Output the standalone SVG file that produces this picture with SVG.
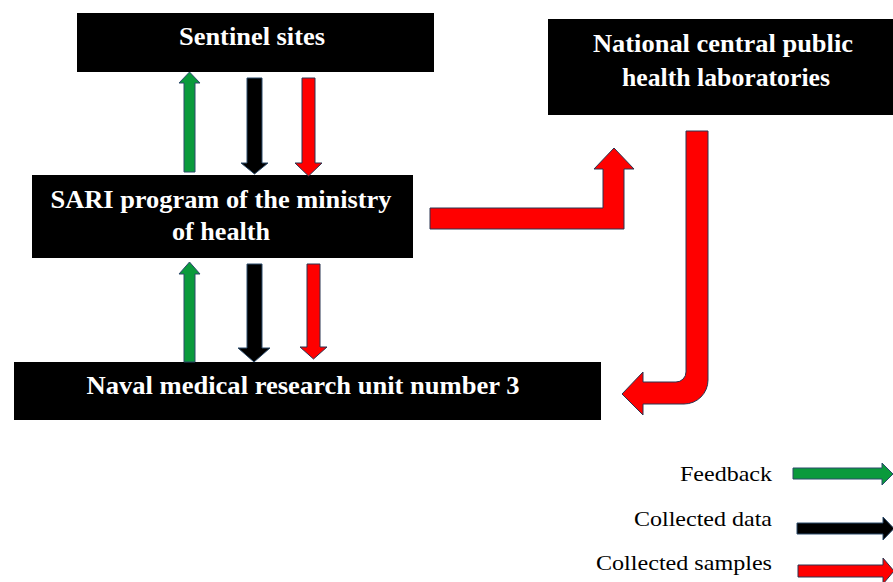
<svg xmlns="http://www.w3.org/2000/svg" width="893" height="582" viewBox="0 0 893 582">
<style>
.box{fill:#000}
.t{font-family:"Liberation Serif","Times New Roman",serif;font-weight:bold;font-size:25px;fill:#fff;text-anchor:middle}
.l{font-family:"Liberation Serif","Times New Roman",serif;font-size:22px;fill:#000;text-anchor:end}
.g{fill:#0a9a3c;stroke:#2a4a6a;stroke-width:1}
.k{fill:#000;stroke:#2a4a6a;stroke-width:1}
.r{fill:#ff0000;stroke:#2a3550;stroke-width:1}
</style>
<rect width="893" height="582" fill="#fff"/>
<g id="sentinel">
<rect class="box" x="77" y="13" width="357" height="59"/>
<text class="t" x="252" y="45" textLength="146" lengthAdjust="spacingAndGlyphs">Sentinel sites</text>
</g>
<g id="national">
<rect class="box" x="548" y="19" width="345" height="96"/>
<text class="t" x="723" y="52" textLength="260" lengthAdjust="spacingAndGlyphs">National central public</text>
<text class="t" x="726" y="86" textLength="208" lengthAdjust="spacingAndGlyphs">health laboratories</text>
</g>
<g id="sari">
<rect class="box" x="32" y="175" width="381" height="83"/>
<text class="t" x="221" y="208" textLength="341" lengthAdjust="spacingAndGlyphs">SARI program of the ministry</text>
<text class="t" x="221" y="240" textLength="98" lengthAdjust="spacingAndGlyphs">of health</text>
</g>
<g id="naval">
<rect class="box" x="14" y="362" width="587" height="58"/>
<text class="t" x="303" y="394" textLength="433" lengthAdjust="spacingAndGlyphs">Naval medical research unit number 3</text>
</g>
<g id="connectors">
<path class="g" d="M184,172 V83 H179 L189.5,72 L200,83 H195 V172 Z"/>
<path class="k" d="M247,78 H262 V163 H268 L254.5,174 L241,163 H247 Z"/>
<path class="r" d="M302,78 H315 V163 H322 L308.5,176 L295,163 H302 Z"/>
<path class="g" d="M184,362 V274 H179 L189.5,262 L200,274 H195 V362 Z"/>
<path class="k" d="M247,264 H262 V348 H270 L254,362 L238,348 H247 Z"/>
<path class="r" d="M307,264 H320 V347 H327 L313.5,359 L300,347 H307 Z"/>
<path class="r" d="M430,208 H603 V169 H594 L614,148 L634,169 H624 V229 H430 Z"/>
<path class="r" d="M686,131 H708 V380 A24,24 0 0 1 684,404 H643 V415 L622,394 L643,372 V382 H676 A10,10 0 0 0 686,372 Z"/>
</g>
<g id="legend">
<text class="l" x="772" y="481" textLength="92" lengthAdjust="spacingAndGlyphs">Feedback</text>
<text class="l" x="772" y="526" textLength="138" lengthAdjust="spacingAndGlyphs">Collected data</text>
<text class="l" x="772" y="570" textLength="176" lengthAdjust="spacingAndGlyphs">Collected samples</text>
<path class="g" d="M793,468 H882 V463 L893,474 L882,485 V479 H793 Z"/>
<path class="k" d="M797,523 H883 V517 L894,528.5 L883,540 V534 H797 Z"/>
<path class="r" d="M798,565 H883 V558 L894,571 L883,584 V577 H798 Z"/>
</g>
</svg>
